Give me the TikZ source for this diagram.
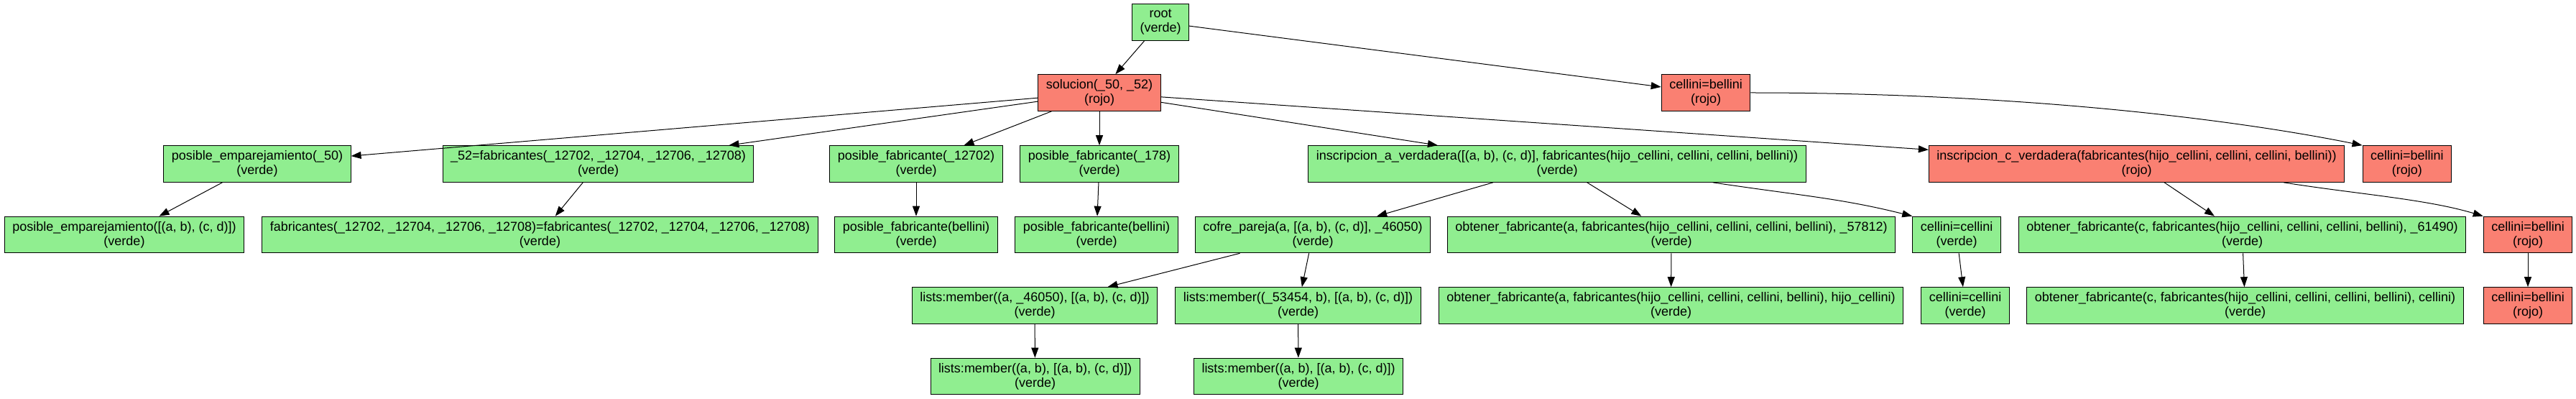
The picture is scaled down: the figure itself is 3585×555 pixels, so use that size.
\documentclass[tikz,border=0pt]{standalone}
\usepackage{fontspec}
\setmainfont{Liberation Sans}
\usepackage{tikz}
\usetikzlibrary{arrows.meta}
\definecolor{verdeclaro}{HTML}{90EE90}
\definecolor{salmon}{HTML}{FA8072}
\tikzset{
    caja/.style={rectangle,draw=black,line width=0.75pt,align=center,inner xsep=8.25pt,inner ysep=0pt,minimum height=38pt,font=\fontsize{13.5}{15}\selectfont},
    verde/.style={caja,fill=verdeclaro},
    rojo/.style={caja,fill=salmon},
    flecha/.style={draw=black,line width=0.75pt,-{Triangle[length=10.5pt,width=7.5pt]}}
}

\begin{document}
\begin{tikzpicture}[x=0.75pt,y=-0.75pt]
                            \useasboundingbox (0,0) rectangle (3585,555);
                            \node[verde] (root) at (1615,31) {root\\(verde)};
                            \node[rojo] (sol) at (1530,129) {solucion(\_50, \_52)\\(rojo)};
                            \node[rojo] (cb1) at (2374,129) {cellini=bellini\\(rojo)};
                            \node[verde] (pe) at (358,228) {posible\_emparejamiento(\_50)\\(verde)};
                            \node[verde] (fab) at (832.5,228) {\_52=fabricantes(\_12702, \_12704, \_12706, \_12708)\\(verde)};
                            \node[verde] (pfa) at (1275,228) {posible\_fabricante(\_12702)\\(verde)};
                            \node[verde] (pfb) at (1530,228) {posible\_fabricante(\_178)\\(verde)};
                            \node[verde] (ia) at (2167,228) {inscripcion\_a\_verdadera([(a, b), (c, d)], fabricantes(hijo\_cellini, cellini, cellini, bellini))\\(verde)};
                            \node[rojo] (ic) at (2973.5,228) {inscripcion\_c\_verdadera(fabricantes(hijo\_cellini, cellini, cellini, bellini))\\(rojo)};
                            \node[rojo] (cb2) at (3349.8,228) {cellini=bellini\\(rojo)};
                            \node[verde] (pe2) at (173,326.5) {posible\_emparejamiento([(a, b), (c, d)])\\(verde)};
                            \node[verde] (fab2) at (751.5,326.5) {fabricantes(\_12702, \_12704, \_12706, \_12708)=fabricantes(\_12702, \_12704, \_12706, \_12708)\\(verde)};
                            \node[verde] (pfa2) at (1275,326.5) {posible\_fabricante(bellini)\\(verde)};
                            \node[verde] (pfb2) at (1526,326.5) {posible\_fabricante(bellini)\\(verde)};
                            \node[verde] (cofre) at (1827,326.5) {cofre\_pareja(a, [(a, b), (c, d)], \_46050)\\(verde)};
                            \node[verde] (oa) at (2326,326.5) {obtener\_fabricante(a, fabricantes(hijo\_cellini, cellini, cellini, bellini), \_57812)\\(verde)};
                            \node[verde] (cc) at (2723,326.5) {cellini=cellini\\(verde)};
                            \node[verde] (oc) at (3120.5,326.5) {obtener\_fabricante(c, fabricantes(hijo\_cellini, cellini, cellini, bellini), \_61490)\\(verde)};
                            \node[rojo] (cb3) at (3518,326.5) {cellini=bellini\\(rojo)};
                            \node[verde] (lm1) at (1440,425) {lists:member((a, \_46050), [(a, b), (c, d)])\\(verde)};
                            \node[verde] (lm2) at (1806.5,425) {lists:member((\_53454, b), [(a, b), (c, d)])\\(verde)};
                            \node[verde] (oa2) at (2325.5,425) {obtener\_fabricante(a, fabricantes(hijo\_cellini, cellini, cellini, bellini), hijo\_cellini)\\(verde)};
                            \node[verde] (cc2) at (2735,425) {cellini=cellini\\(verde)};
                            \node[verde] (oc2) at (3124.5,425) {obtener\_fabricante(c, fabricantes(hijo\_cellini, cellini, cellini, bellini), cellini)\\(verde)};
                            \node[rojo] (cb4) at (3518,425) {cellini=bellini\\(rojo)};
                            \node[verde] (lm3) at (1440.5,523.5) {lists:member((a, b), [(a, b), (c, d)])\\(verde)};
                            \node[verde] (lm4) at (1807,523.5) {lists:member((a, b), [(a, b), (c, d)])\\(verde)};
                            \draw[flecha] (root) -- (sol);
                            \draw[flecha] (root) -- (cb1);
                            \draw[flecha] (sol) -- (pe);
                            \draw[flecha] (sol) -- (fab);
                            \draw[flecha] (sol) -- (pfa);
                            \draw[flecha] (sol) -- (pfb);
                            \draw[flecha] (sol) -- (ia);
                            \draw[flecha] (sol) -- (ic);
                            \draw[flecha] (cb1.east) .. controls +(364,0) and +(-188,-38) .. (cb2.north west);
                            \draw[flecha] (pe) -- (pe2);
                            \draw[flecha] (fab) -- (fab2);
                            \draw[flecha] (pfa) -- (pfa2);
                            \draw[flecha] (pfb) -- (pfb2);
                            \draw[flecha] (ia) -- (cofre);
                            \draw[flecha] (ia) -- (oa);
                            \draw[flecha] ([xshift=-97.5pt]ia.south east) .. controls +(120,18) and +(-100,-25) .. (cc.north west);
                            \draw[flecha] (ic) -- (oc);
                            \draw[flecha] ([xshift=-63.75pt]ic.south east) .. controls +(100,16) and +(-80,-24) .. (cb3.north west);
                            \draw[flecha] (cofre) -- (lm1);
                            \draw[flecha] (cofre) -- (lm2);
                            \draw[flecha] (oa) -- (oa2);
                            \draw[flecha] (cc) -- (cc2);
                            \draw[flecha] (oc) -- (oc2);
                            \draw[flecha] (cb3) -- (cb4);
                            \draw[flecha] (lm1) -- (lm3);
                            \draw[flecha] (lm2) -- (lm4);
                        \end{tikzpicture}
\end{document}
